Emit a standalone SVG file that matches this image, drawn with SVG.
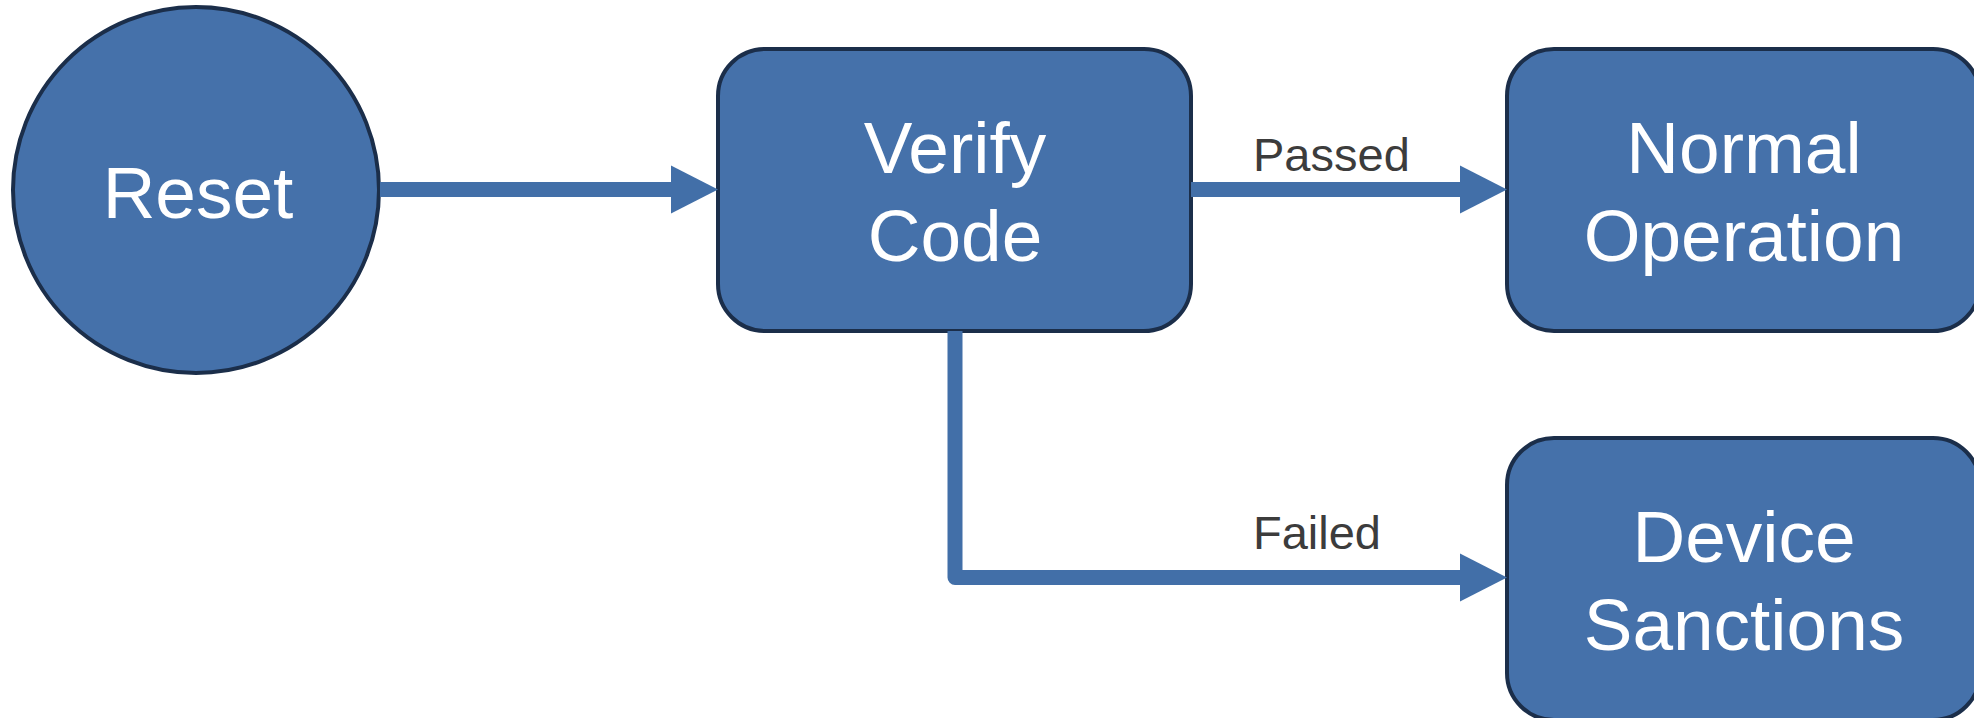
<svg xmlns="http://www.w3.org/2000/svg" width="1974" height="718" viewBox="0 0 1974 718">
<style>
.node{fill:#4571aa;stroke:#1b2e4a;stroke-width:4}
.nt{fill:#ffffff;font-family:"Liberation Sans",Arial,sans-serif;font-size:73px;text-anchor:middle}
.edge{fill:none;stroke:#426fa8;stroke-width:15;stroke-linejoin:round}
.lbl{fill:#3c3c3c;font-family:"Liberation Sans",Arial,sans-serif;font-size:47px}
</style>
<defs>
<marker id="arr" markerUnits="userSpaceOnUse" markerWidth="48" markerHeight="50" refX="0" refY="24" orient="auto" overflow="visible">
<path d="M0,0 L47,24 L0,48 Z" fill="#426fa8"/>
</marker>
</defs>
<rect width="1974" height="718" fill="#ffffff"/>
<g id="reset">
<circle class="node" cx="196" cy="190" r="183"/>
<text class="nt" x="198" y="218">Reset</text>
</g>
<g id="verify">
<rect class="node" x="718" y="49" width="473" height="282" rx="47" ry="47"/>
<text class="nt" x="955" y="173">Verify</text>
<text class="nt" x="955" y="261">Code</text>
</g>
<g id="normal">
<rect class="node" x="1507" y="49" width="473" height="282" rx="47" ry="47"/>
<text class="nt" x="1744" y="173">Normal</text>
<text class="nt" x="1744" y="261">Operation</text>
</g>
<g id="sanctions">
<rect class="node" x="1507" y="438" width="473" height="282" rx="47" ry="47"/>
<text class="nt" x="1744" y="562">Device</text>
<text class="nt" x="1744" y="650">Sanctions</text>
</g>
<g id="connectors">
<path class="edge" d="M380,189.5 H671" marker-end="url(#arr)"/>
<path class="edge" d="M1191,189.5 H1460" marker-end="url(#arr)"/>
<path class="edge" d="M955,331 V577.5 H1460" marker-end="url(#arr)"/>
<text class="lbl" x="1253" y="171">Passed</text>
<text class="lbl" x="1253" y="549">Failed</text>
</g>
</svg>
